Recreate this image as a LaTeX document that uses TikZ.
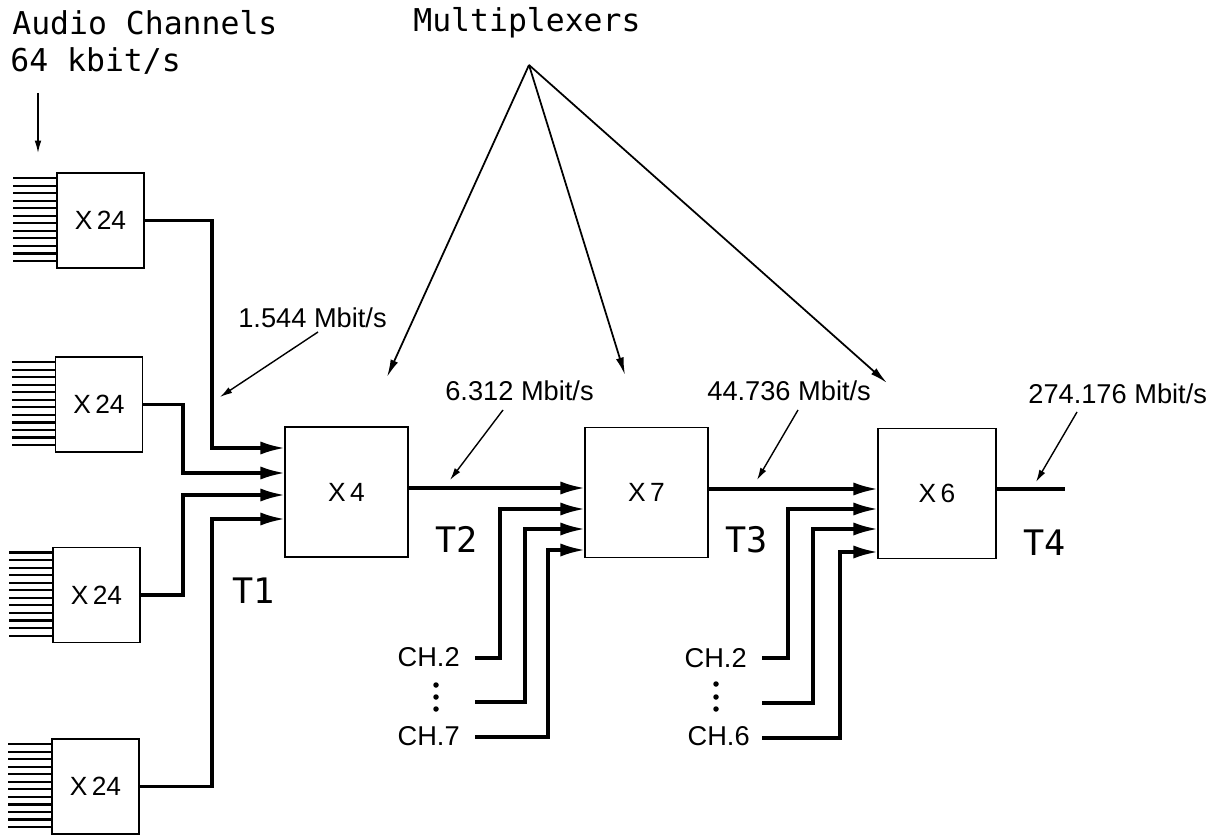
\documentclass[tikz,border=0pt]{standalone}
\usepackage{fontspec}
\setmainfont{Liberation Sans}
\newfontfamily\plotfont{DejaVu Sans Mono}
\usetikzlibrary{arrows.meta,calc}
\begin{document}
\begin{tikzpicture}[x=0.02cm,y=-0.02cm,
  box/.style={draw, line width=1.1pt, minimum width=1.74cm, minimum height=1.9cm, inner sep=0pt, font=\fontsize{15}{17}\selectfont},
  muxbox/.style={draw, line width=1.1pt, minimum height=2.6cm, inner sep=0pt, font=\fontsize{15}{17}\selectfont},
  conn/.style={line width=1.9pt},
  inarrow/.style={conn, -{Latex[length=14pt,width=7.5pt]}},
  feed/.style={line width=1.2pt},
  pointer/.style={line width=0.8pt, -{Latex[length=7pt,width=3.8pt]}},
  muxptr/.style={line width=1pt, -{Latex[length=10pt,width=4.5pt]}},
  lab/.style={font=\fontsize{15.5}{17}\selectfont, inner sep=0pt},
  head/.style={font=\plotfont\fontsize{17.9}{22}\selectfont, inner sep=0pt},
  tlab/.style={font=\plotfont\fontsize{20}{22}\selectfont, inner sep=0pt},
]
\useasboundingbox (0,0) rectangle (1231,838);

% headings
\node[head, anchor=base west] (hA) at (12,35) {Audio Channels};
\node[head, anchor=base west] (hB) at (10,72) {64 kbit/s};
\node[head, anchor=base west] (hM) at (413,32) {Multiplexers};

% first-level multiplexers
\node[box] (b1) at (100.5,220.5) {X\,24};
\node[box] (b2) at (99,404.5) {X\,24};
\node[box] (b3) at (96.5,595) {X\,24};
\node[box] (b4) at (95.5,786.5) {X\,24};

% higher-level multiplexers
\node[muxbox, minimum width=2.46cm] (x4) at (346.5,492) {X\,4};
\node[muxbox, minimum width=2.46cm] (x7) at (646.5,492.5) {X\,7};
\node[muxbox, minimum width=2.36cm] (x6) at (937,493.5) {X\,6};

% audio channel feeds
\foreach \b in {b1,b2,b3,b4}{
  \foreach \i in {0,...,11}{
    \draw[feed] ($(\b.north west)+(0,6+\i*7.55)$) -- ++(-43,0);
  }
}
\coordinate (aTop) at (38,93);
\coordinate (aTip) at (38,153);
\draw[pointer] (aTop) -- (aTip);

% inputs of X4
\coordinate (x4i1) at (285,448);
\coordinate (x4i2) at (285,473);
\coordinate (x4i3) at (285,495);
\coordinate (x4i4) at (285,519);
\draw[inarrow] (b1.east) -| (212,448) -- (x4i1);
\draw[inarrow] (b2.east) -| (183,473) -- (x4i2);
\draw[inarrow] (b3.east) -| (183,495) -- (x4i3);
\draw[inarrow] (b4.east) -| (212,519) -- (x4i4);

% inputs of X7
\coordinate (x7i1) at (585,488);
\coordinate (x7i2) at (585,509);
\coordinate (x7i3) at (585,529);
\coordinate (x7i4) at (585,550);
\draw[inarrow] (x4.east |- x7i1) -- (x7i1);
\node[lab, anchor=base east] (c2a) at (460,666) {CH.2};
\node[lab, anchor=base east] (c7a) at (460,745) {CH.7};
\foreach \yy in {685,697,709} \fill (436,\yy) circle[radius=0.055cm];
\coordinate (s1a) at (475,658);
\coordinate (s2a) at (475,702);
\coordinate (s3a) at (475,737);
\draw[inarrow] (s1a) -| (500,509) -- (x7i2);
\draw[inarrow] (s2a) -| (525,529) -- (x7i3);
\draw[inarrow] (s3a) -| (548,550) -- (x7i4);

% inputs of X6
\coordinate (x6i1) at (878,489);
\coordinate (x6i2) at (878,509);
\coordinate (x6i3) at (878,529);
\coordinate (x6i4) at (878,552);
\draw[inarrow] (x7.east |- x6i1) -- (x6i1);
\node[lab, anchor=base east] (c2b) at (747,667) {CH.2};
\node[lab, anchor=base east] (c6b) at (750,745) {CH.6};
\foreach \yy in {684,697,709} \fill (716,\yy) circle[radius=0.055cm];
\coordinate (s1b) at (762,658);
\coordinate (s2b) at (762,703);
\coordinate (s3b) at (762,738);
\draw[inarrow] (s1b) -| (788,509) -- (x6i2);
\draw[inarrow] (s2b) -| (813,529) -- (x6i3);
\draw[inarrow] (s3b) -| (840,552) -- (x6i4);

% output of X6
\coordinate (outEnd) at (1065,489);
\draw[conn] (x6.east |- outEnd) -- (outEnd);

% level labels
\node[tlab, anchor=base west] (t1) at (232,603) {T1};
\node[tlab, anchor=base west] (t2) at (435,552) {T2};
\node[tlab, anchor=base west] (t3) at (725,552) {T3};
\node[tlab, anchor=base west] (t4) at (1023,555) {T4};

% rate labels and pointers
\node[lab, anchor=base west] (r1) at (238,327) {1.544 Mbit/s};
\node[lab, anchor=base west] (r2) at (445,400) {6.312 Mbit/s};
\node[lab, anchor=base west] (r3) at (707,400) {44.736 Mbit/s};
\node[lab, anchor=base west] (r4) at (1028,403) {274.176 Mbit/s};
\coordinate (r1a) at (318,332); \coordinate (r1b) at (220,397);
\coordinate (r2a) at (503,410); \coordinate (r2b) at (450,480);
\coordinate (r3a) at (798,410); \coordinate (r3b) at (757,480);
\coordinate (r4a) at (1077,412); \coordinate (r4b) at (1036,482);
\draw[pointer] (r1a) -- (r1b);
\draw[pointer] (r2a) -- (r2b);
\draw[pointer] (r3a) -- (r3b);
\draw[pointer] (r4a) -- (r4b);

% multiplexer pointers
\coordinate (mux) at (529,65);
\coordinate (m1) at (387,377);
\coordinate (m2) at (625,375);
\coordinate (m3) at (887,383);
\draw[muxptr] (mux) -- (m1);
\draw[muxptr] (mux) -- (m2);
\draw[muxptr] (mux) -- (m3);
\end{tikzpicture}
\end{document}
